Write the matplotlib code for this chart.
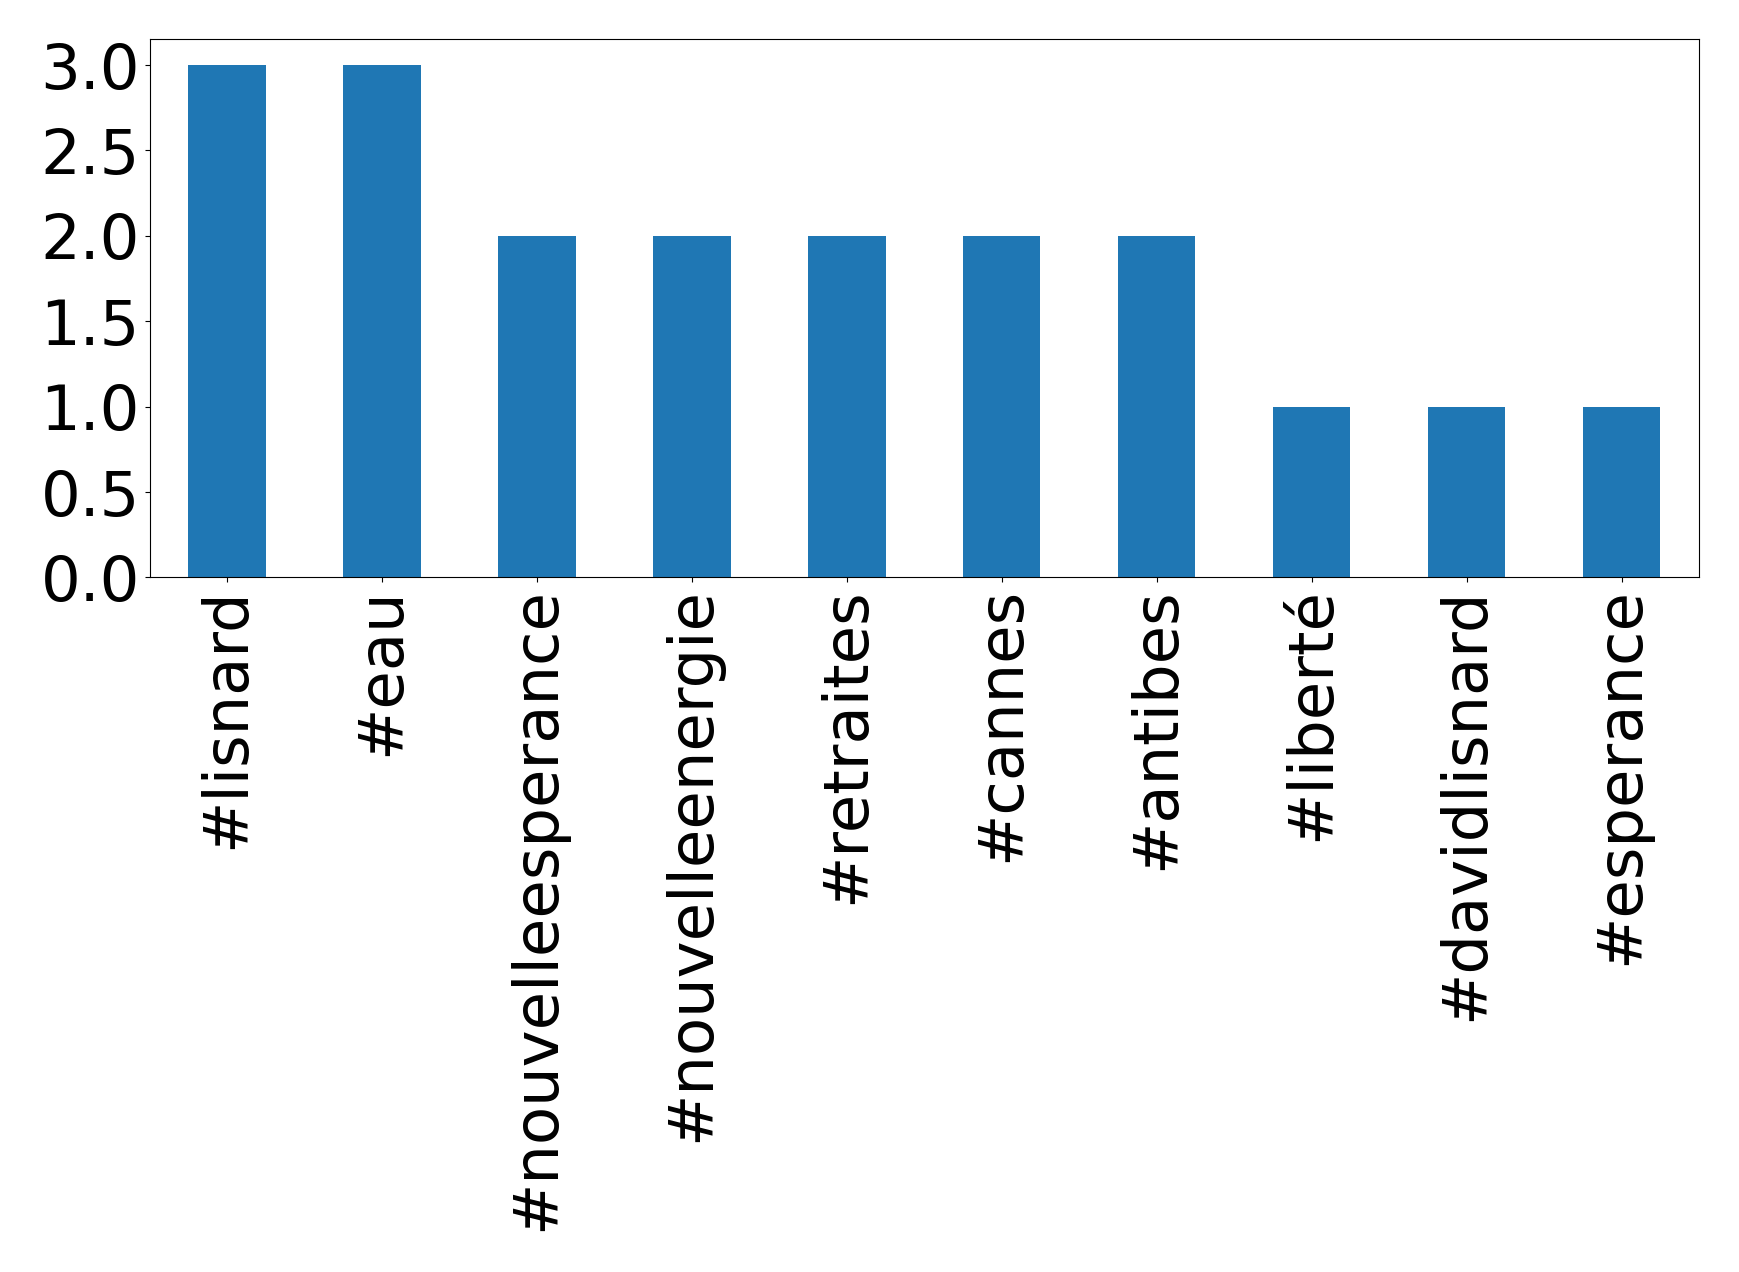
import matplotlib
matplotlib.use("Agg")
import matplotlib.pyplot as plt
from matplotlib.ticker import MultipleLocator, FormatStrFormatter
import pandas as pd

hashtags = ["#lisnard", "#eau", "#nouvelleesperance", "#nouvelleenergie",
            "#retraites", "#cannes", "#antibes", "#liberté",
            "#davidlisnard", "#esperance"]
counts = [3, 3, 2, 2, 2, 2, 2, 1, 1, 1]

s = pd.Series(counts, index=hashtags)

fig, ax = plt.subplots(figsize=(17.39, 12.72), dpi=100)
s.plot(kind="bar", ax=ax, color="#1f77b4", width=0.5)
ax.yaxis.set_major_locator(MultipleLocator(0.5))
ax.yaxis.set_major_formatter(FormatStrFormatter("%.1f"))
ax.tick_params(axis="both", labelsize=45)
fig.subplots_adjust(left=0.086, right=0.977, top=0.969, bottom=0.546)
fig.savefig("out.png")
plt.close(fig)
